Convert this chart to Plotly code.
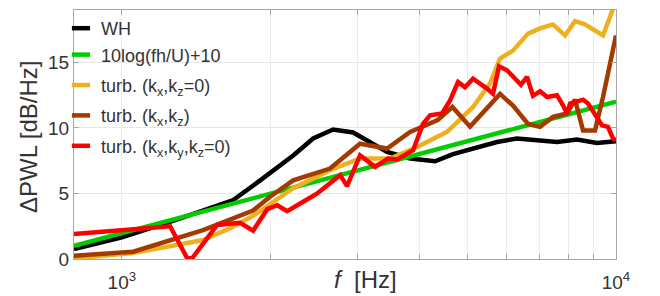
import numpy as np
import plotly.graph_objects as go

# ---------------- data ----------------
f_wh = [800, 1000, 1282, 1680, 1905, 2222, 2438, 2676, 2937, 3441, 3831, 4303,
        4679, 5743, 6303, 7596, 8339, 9152, 10000]
v_wh = [0.76, 1.65, 2.97, 4.5, 6.0, 7.9, 9.2, 9.88, 9.65, 8.17, 7.67, 7.46,
        8.0, 8.93, 9.19, 8.93, 9.11, 8.86, 8.99]

f_fit = [800, 10000]
v_fit = [1.0, 12.0]

f_kxkz0 = [800, 1054, 1460, 1656, 1843, 1995, 2222, 2638, 3034, 3489, 3958,
           4551, 5136, 5560, 5826, 6188, 6637, 7019, 7456, 7884, 8261, 8653,
           9413, 10000]
v_kxkz0 = [0.05, 0.45, 1.45, 2.34, 3.3, 4.2, 5.4, 6.78, 7.67, 7.67, 8.55,
           9.7, 11.6, 13.4, 15.3, 15.9, 17.2, 17.6, 17.9, 17.06, 18.15, 17.9,
           17.06, 19.7]

f_kxkz = [800, 1054, 1460, 1843, 1995, 2222, 2638, 3034, 3441, 3831, 4355,
          4666, 5066, 5826, 6188, 6637, 7019, 7456, 7962, 8261, 8577, 9069,
          9413, 10000]
v_kxkz = [0.25, 0.56, 2.2, 3.7, 4.75, 6.0, 6.9, 8.8, 8.43, 9.7, 10.6,
          11.6, 10.1, 12.6, 11.7, 10.3, 10.08, 10.84, 11.1, 12.16, 9.8, 9.8,
          12.36, 17.06]

f_kxkykz0 = [800, 1054, 1252, 1356, 1387, 1559, 1735, 1843, 1968, 2063, 2160,
             2328, 2485, 2766, 2856, 3034, 3253, 3457, 3606, 3885, 4070, 4205,
             4446, 4615, 4790, 4949, 5136, 5483, 5637, 5797, 6017, 6422, 6606,
             6793, 7019, 7252, 7596, 7812, 7962, 8073, 8261, 8577, 8777, 9152,
             9368, 9633, 9860, 10000]
v_kxkykz0 = [1.9, 2.26, 2.5, 0.05, 0.05, 2.6, 2.76, 2.16, 3.8, 4.1, 3.65,
             4.37, 5.0, 6.4, 5.56, 7.92, 7.03, 7.67, 7.6, 8.3, 10.33, 10.97,
             11.1, 12.1, 13.5, 13.1, 13.76, 13.0, 12.6, 14.7, 14.4, 13.3, 13.9,
             12.45, 12.8, 12.36, 12.5, 11.73, 11.1, 11.86, 12.0, 12.16, 11.86,
             10.7, 10.2, 10.08, 9.2, 9.06]

names = ["WH", "10log(fh/U)+10",
         "turb. (k<sub>x</sub>,k<sub>z</sub>=0)",
         "turb. (k<sub>x</sub>,k<sub>z</sub>)",
         "turb. (k<sub>x</sub>,k<sub>y</sub>,k<sub>z</sub>=0)"]
groups = ["a", "a", "b", "c", "d"]
colors = ["#000000", "#00CC00", "#EDB120", "#A33A00", "#FF0000"]
series = [(f_wh, v_wh), (f_fit, v_fit), (f_kxkz0, v_kxkz0),
          (f_kxkz, v_kxkz), (f_kxkykz0, v_kxkykz0)]

x_ticks = [1000, 2000, 3000, 4000, 5000, 6000, 7000, 8000, 9000, 10000]
x_ticktext = ["10<sup>3</sup>", "", "", "", "", "", "", "", "", "10<sup>4</sup>"]
y_ticks = [0, 5, 10, 15]

# ---------------- figure ----------------
FONT = "Liberation Sans, Arial, sans-serif"
TXT = "#333333"
AX = "#a6a6a6"

fig = go.Figure()
for (fx, vy), nm, c in zip(series, names, colors):
    fig.add_trace(go.Scatter(x=fx, y=vy, mode="lines", name=nm,
                             line=dict(color=c, width=4.5),
                             showlegend=False, hoverinfo="skip"))
# legend entries (short thick bars like the reference)
for nm, c, g in zip(names, colors, groups):
    fig.add_trace(go.Scatter(x=[None], y=[None], mode="markers", name=nm,
                             legendgroup=g,
                             marker=dict(symbol="line-ew", size=13,
                                         line=dict(color=c, width=4.5))))

fig.add_shape(type="rect", xref="paper", yref="paper", layer="between",
              x0=0, x1=0.30, y0=0.445, y1=1,
              fillcolor="white", line=dict(width=0))

fig.update_xaxes(type="log", range=[np.log10(800), 4],
                 tickvals=x_ticks, ticktext=x_ticktext,
                 showgrid=True, gridcolor="#ececec", gridwidth=1,
                 showline=True, linecolor=AX, linewidth=1, mirror="ticks",
                 ticks="inside", ticklen=5, tickcolor=AX,
                 tickfont=dict(size=19, color=TXT, family=FONT),
                 ticklabelstandoff=6, zeroline=False)
fig.update_yaxes(range=[0, 19], tickvals=y_ticks,
                 showgrid=True, gridcolor="#e6e6e6", gridwidth=1,
                 showline=True, linecolor=AX, linewidth=1, mirror="ticks",
                 ticks="inside", ticklen=5, tickcolor=AX,
                 tickfont=dict(size=19, color=TXT, family=FONT),
                 zeroline=False)

fig.add_annotation(text="<i>f</i>  [Hz]", xref="paper", yref="paper",
                   x=(365 - 74) / 542, y=-20 / 249, xanchor="center",
                   yanchor="middle", showarrow=False,
                   font=dict(size=24, color=TXT, family=FONT))
fig.add_annotation(text="\u0394PWL [dB/Hz]", xref="paper", yref="paper",
                   x=(28 - 74) / 542, y=(259 - 137) / 249, xanchor="center",
                   yanchor="middle", textangle=-90, showarrow=False,
                   font=dict(size=24, color=TXT, family=FONT))

fig.update_layout(
    width=660, height=296,
    margin=dict(l=74, r=44, t=10, b=37, autoexpand=False),
    plot_bgcolor="white", paper_bgcolor="white",
    font=dict(family=FONT, color=TXT),
    legend=dict(x=-13 / 542, y=1, xanchor="left", yanchor="top",
                bgcolor="rgba(0,0,0,0)", borderwidth=0,
                font=dict(size=18, color=TXT, family=FONT),
                itemclick=False, tracegroupgap=4),
)

fig.write_html("out.html",
               config={"displayModeBar": False},
               post_script="document.body.style.margin='0';"
                           "document.body.style.overflow='hidden';")
